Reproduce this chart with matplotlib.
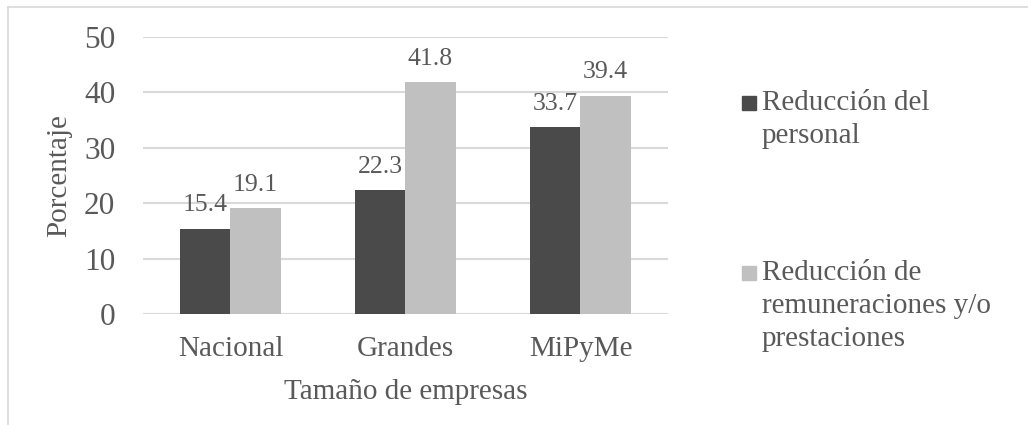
import numpy as np
import matplotlib.pyplot as plt
from matplotlib.patches import Rectangle
from matplotlib.lines import Line2D

categories = ['Nacional', 'Grandes', 'MiPyMe']
personal = [15.4, 22.3, 33.7]
remuneraciones = [19.1, 41.8, 39.4]
series_names = [['Reducción del', 'personal'],
                ['Reducción de', 'remuneraciones y/o', 'prestaciones']]

plt.rcParams['font.family'] = ['Liberation Serif', 'DejaVu Serif']
text_color = '#595959'
dark = '#4a4a4a'
light = '#c0c0c0'

fig = plt.figure(figsize=(10.28, 4.25), dpi=100)
W, H = 1028, 425
ax = fig.add_axes([143 / W, 1 - 314 / H, (668 - 143) / W, (314 - 37) / H])

x = np.arange(len(categories))
w = 0.286
b1 = ax.bar(x - w / 2, personal, w, color=dark, zorder=3)
b2 = ax.bar(x + w / 2, remuneraciones, w, color=light, zorder=3)

for bars, vals in [(b1, personal), (b2, remuneraciones)]:
    for bar, v in zip(bars, vals):
        ax.annotate(f'{v:.1f}', (bar.get_x() + bar.get_width() / 2, v),
                    xytext=(0, 9), textcoords='offset points',
                    ha='center', va='bottom', fontsize=18.5, color=text_color)

ax.set_xlim(-0.5, len(categories) - 0.5)
ax.set_ylim(0, 50)
ax.set_yticks(np.arange(0, 51, 10))
ax.set_xticks(x)
ax.set_xticklabels(categories)
ax.tick_params(axis='both', length=0, colors=text_color)
ax.tick_params(axis='y', pad=20, labelsize=22.5)
ax.tick_params(axis='x', pad=16, labelsize=21)
ax.yaxis.grid(True, color='#d9d9d9', linewidth=1.5, zorder=0)
for s in ax.spines.values():
    s.set_visible(False)

ax.set_ylabel('Porcentaje', fontsize=21, color=text_color)
ax.yaxis.set_label_coords(-0.135, 0.5)
ax.set_xlabel('Tamaño de empresas', fontsize=21, color=text_color, labelpad=12)

# legend drawn by hand so the square lines up with the first text line
leg_items = [(dark, series_names[0], 110), (light, series_names[1], 280)]
for col, lines, base in leg_items:
    fig.patches.append(Rectangle((742 / W, 1 - base / H), 14 / W, 14 / H,
                                 transform=fig.transFigure, color=col))
    for i, line in enumerate(lines):
        fig.text(762 / W, 1 - (base + 33 * i) / H, line, fontsize=21,
                 color=text_color, va='baseline', ha='left')

# frame (top and left edges only visible)
fig.lines.append(Line2D([8 / W, 1], [1 - 7 / H, 1 - 7 / H], transform=fig.transFigure,
                        color='#d9d9d9', linewidth=1.2))
fig.lines.append(Line2D([8 / W, 8 / W], [0, 1 - 7 / H], transform=fig.transFigure,
                        color='#d9d9d9', linewidth=1.2))

fig.savefig('out.png', dpi=100)
